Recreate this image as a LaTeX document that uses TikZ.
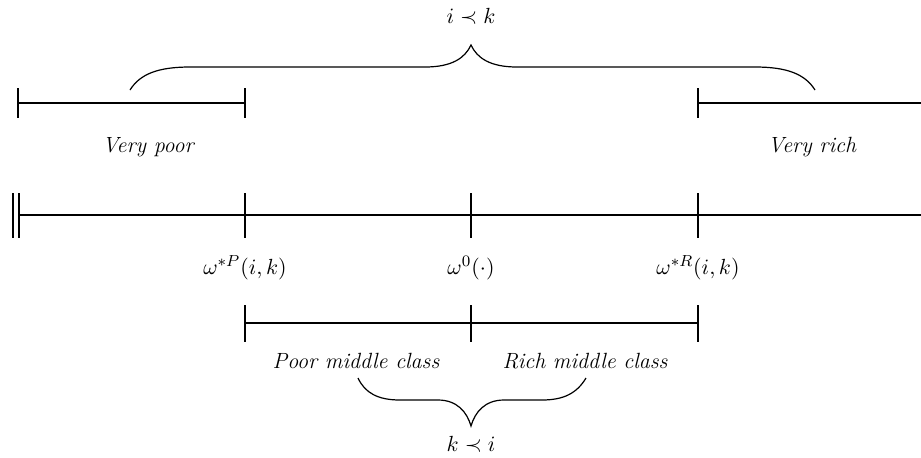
\documentclass[tikz,border=0pt]{standalone}
\begin{document}
\begin{tikzpicture}[x=0.5pt,y=-0.5pt,
  axis/.style={line width=1.4pt},
  bracepath/.style={line width=0.6pt},
  lbl/.style={font=\fontsize{11}{13}\selectfont, inner sep=0pt},
  tick/.style={line width=1.4pt}]
\useasboundingbox (0,0) rectangle (921,457);
% main axis
\coordinate (m0) at (19,215);
\coordinate (m1) at (245,215);
\coordinate (m2) at (471,215);
\coordinate (m3) at (698,215);
\coordinate (mE) at (921,215);
\draw[axis] (m0) -- (mE);
\draw[tick] (13,193) -- (13,238);
\draw[tick] (19,193) -- (19,238);
\foreach \x in {245,471,698} \draw[tick] (\x,193) -- (\x,238);
\node[lbl] (wP) at (245,268) {$\omega^{*P}(i,k)$};
\node[lbl] (w0) at (471,268) {$\omega^{0}(\cdot)$};
\node[lbl] (wR) at (698,268) {$\omega^{*R}(i,k)$};
% top segments
\coordinate (a0) at (18,103);
\coordinate (a1) at (245,103);
\coordinate (b0) at (698,103);
\coordinate (b1) at (921,103);
\draw[axis] (a0) -- (a1);
\draw[axis] (b0) -- (b1);
\foreach \x in {18,245,698} \draw[tick] (\x,88) -- (\x,118);
\node[lbl] (vp) at (148,147) {\itshape Very poor};
\node[lbl] (vr) at (812,147) {\itshape Very rich};
% top brace
\draw[bracepath] (130,90) .. controls (140,74) and (158,67) .. (190,67)
  -- (425,67) .. controls (452,67) and (465,58) .. (471,45)
  .. controls (477,58) and (490,67) .. (517,67)
  -- (755,67) .. controls (787,67) and (805,74) .. (815,90);
\node[lbl] (ik) at (471,16) {$i \prec k$};
% bottom segments
\coordinate (c0) at (245,323);
\coordinate (c1) at (471,323);
\coordinate (c2) at (698,323);
\draw[axis] (c0) -- (c2);
\foreach \x in {245,471,698} \draw[tick] (\x,305) -- (\x,342);
\node[lbl] (pm) at (356,361) {\itshape Poor middle class};
\node[lbl] (rm) at (585,361) {\itshape Rich middle class};
% bottom brace
\draw[bracepath] (358,378) .. controls (365,393) and (378,400) .. (400,400)
  -- (438,400) .. controls (457,400) and (467,412) .. (471,426)
  .. controls (475,412) and (485,400) .. (504,400)
  -- (542,400) .. controls (564,400) and (577,393) .. (586,378);
\node[lbl] (ki) at (471,444) {$k \prec i$};
\end{tikzpicture}
\end{document}
